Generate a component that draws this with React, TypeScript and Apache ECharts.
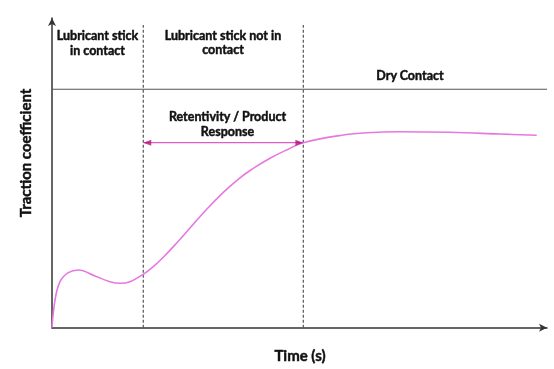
import React, { useEffect, useRef } from "react";
import * as echarts from "echarts";

const curveX = [0, 0.61, 1.62, 3.29, 5.31, 8.69, 11.72, 13.74, 15.76, 18.44, 20.46, 22.48, 25.19, 27.88, 31.25, 34.61, 37.3, 40.0, 44.04, 47.41, 50.77, 58.85, 63.58, 70.3, 80.4, 90.51, 97.92];
const curveY = [0, 8.94, 14.85, 17.76, 18.63, 16.69, 14.85, 14.34, 14.85, 17.24, 19.7, 22.73, 27.34, 32.18, 38.25, 43.69, 47.51, 50.75, 54.71, 57.41, 59.74, 62.22, 62.96, 63.29, 63.09, 62.54, 62.12];
const phaseBounds = [18.44, 50.77];
const dashTop = 97.7;
const dryLevel = 77;
const arrowLevel = 59.74;
const axisMax = 100;

const FONT = "Lato, 'Open Sans', sans-serif";

export default function App() {
  const ref = useRef<HTMLDivElement>(null);
  useEffect(() => {
    if (!ref.current) return;
    const chart = echarts.init(ref.current, null, { renderer: "svg" });
    const curve = curveX.map((x, i) => [x, curveY[i]]);
    const textStyle = (t: string, x: number, y: number, size = 12.5, rotation = 0) => ({
      type: "text",
      x,
      y,
      rotation,
      style: {
        text: t,
        fill: "#111",
        stroke: "#111",
        lineWidth: 0.45,
        font: `bold ${size}px ${FONT}`,
        align: "center",
        verticalAlign: "middle",
      },
      z: 100,
    });
    chart.setOption({
      animation: false,
      grid: { left: 52, right: 7, top: 18, bottom: 41.3 },
      xAxis: {
        type: "value",
        min: 0,
        max: axisMax,
        axisLine: { show: true, lineStyle: { color: "#333", width: 1.5 }, symbol: ["none", "arrow"], symbolSize: [6, 8] },
        axisTick: { show: false },
        axisLabel: { show: false },
        splitLine: { show: false },
      },
      yAxis: {
        type: "value",
        min: 0,
        max: axisMax,
        axisLine: { show: true, lineStyle: { color: "#333", width: 1.5 }, symbol: ["none", "arrow"], symbolSize: [6, 8] },
        axisTick: { show: false },
        axisLabel: { show: false },
        splitLine: { show: false },
      },
      series: [
        {
          type: "line",
          data: curve,
          smooth: 0.4,
          showSymbol: false,
          lineStyle: { color: "#e679df", width: 1.6 },
          z: 5,
        },
        {
          type: "line",
          data: [[0, dryLevel], [axisMax, dryLevel]],
          showSymbol: false,
          lineStyle: { color: "#555", width: 1.2 },
          z: 3,
        },
        ...phaseBounds.map((b) => ({
          type: "line",
          data: [[b, 0], [b, dashTop]],
          showSymbol: false,
          lineStyle: { color: "#555", width: 1.2, type: [3, 2] },
          z: 3,
        })),
        {
          type: "line",
          data: [[phaseBounds[0], arrowLevel], [phaseBounds[1], arrowLevel]],
          showSymbol: false,
          lineStyle: { color: "#e05cc4", width: 1.3 },
          z: 4,
        },
        {
          type: "scatter",
          data: [
            { value: [phaseBounds[0] + 0.8, arrowLevel], symbolRotate: 90 },
            { value: [phaseBounds[1] - 0.8, arrowLevel], symbolRotate: -90 },
          ],
          symbol: "triangle",
          symbolSize: [6, 8],
          itemStyle: { color: "#b3127a" },
          z: 6,
        },
      ],
      graphic: [
        textStyle("Lubricant stick", 97.5, 35),
        textStyle("in contact", 97.5, 50),
        textStyle("Lubricant stick not in", 223, 35),
        textStyle("contact", 223, 49.5),
        textStyle("Dry Contact", 410, 75),
        textStyle("Retentivity / Product", 227.5, 116.5),
        textStyle("Response", 227.5, 131.5),
        textStyle("Time (s)", 300, 355, 15),
        textStyle("Traction coefficient", 25, 153, 15, Math.PI / 2),
      ],
    });
    return () => chart.dispose();
  }, []);
  return <div ref={ref} style={{ width: 554, height: 369, position: "fixed", left: 0, top: 0 }} />;
}
